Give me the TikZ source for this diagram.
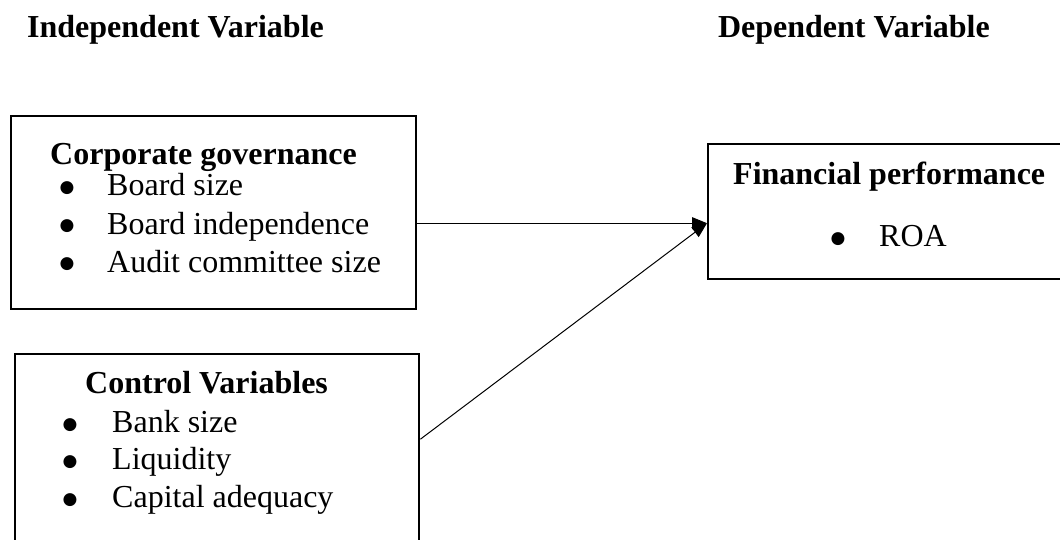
\documentclass[tikz,border=0pt]{standalone}
\usepackage{fontspec}
\setmainfont{Liberation Serif}
\newfontfamily\dotfont{DejaVu Sans}
\usetikzlibrary{arrows.meta, positioning}

\newcommand{\bigdot}{\raisebox{3pt}{\dotfont\fontsize{17}{17}\selectfont ●}}

\begin{document}
\begin{tikzpicture}[x=1pt, y=-1pt, >={Triangle[length=15pt,width=12pt]},
                    font=\fontsize{32}{38}\selectfont]
  \tikzstyle{box}=[draw=black, line width=2.4pt, rectangle, anchor=north west, inner sep=0pt]
  \tikzstyle{head}=[inner sep=0pt, font=\fontsize{32}{38}\selectfont\bfseries]
  \tikzstyle{item}=[inner sep=0pt, anchor=base west]
  \tikzstyle{bul}=[inner sep=0pt, anchor=base]
  \tikzstyle{link}=[->, line width=1pt, draw=black]

  \useasboundingbox (0,0) rectangle (1060,540);

  % column headings
  \node[head, anchor=base west] (indep) at (27,38)  {Independent Variable};
  \node[head, anchor=base east] (dep)   at (990,38) {Dependent Variable};

  % boxes
  \node[box, minimum width=405pt, minimum height=193pt] (cg) at (10,115)  {};
  \node[box, minimum width=404pt, minimum height=220pt] (cv) at (14,353)  {};
  \node[box, minimum width=380pt, minimum height=135pt] (fp) at (707,143) {};

  % corporate governance
  \node[head, anchor=base west] (cgT) at (50,165) {Corporate governance};
  \node[bul]  (cgB1) at (67,196)  {\bigdot};
  \node[item] (cgI1) at (107,196) {Board size};
  \node[bul]  (cgB2) at (67,234)  {\bigdot};
  \node[item] (cgI2) at (107,234) {Board independence};
  \node[bul]  (cgB3) at (67,272)  {\bigdot};
  \node[item] (cgI3) at (107,272) {Audit committee size};

  % control variables
  \node[head, anchor=base west] (cvT) at (85,393) {Control Variables};
  \node[bul]  (cvB1) at (70,432)  {\bigdot};
  \node[item] (cvI1) at (112,432) {Bank size};
  \node[bul]  (cvB2) at (70,469)  {\bigdot};
  \node[item] (cvI2) at (112,469) {Liquidity};
  \node[bul]  (cvB3) at (70,507)  {\bigdot};
  \node[item] (cvI3) at (112,507) {Capital adequacy};

  % financial performance
  \node[head, anchor=base west] (fpT) at (733,185) {Financial performance};
  \node[bul]  (fpB1) at (838,247) {\bigdot};
  \node[item] (fpI1) at (879,247) {ROA};

  \draw[link] ([yshift=-10.5pt]cg.east) -- ([yshift=-11.5pt]fp.west);
  \draw[link] ([yshift=25pt]cv.east)    -- ([yshift=-11.5pt]fp.west);
\end{tikzpicture}
\end{document}
